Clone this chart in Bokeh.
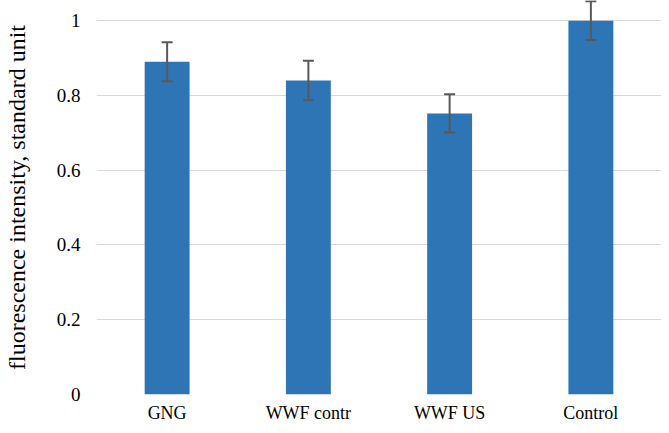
from bokeh.plotting import figure
from bokeh.models import ColumnDataSource, Whisker, TeeHead, FixedTicker, Range1d
from bokeh.embed import file_html
from bokeh.resources import INLINE

categories = ["GNG", "WWF contr", "WWF US", "Control"]
values = [0.89, 0.84, 0.752, 1.0]
errors = [0.052, 0.053, 0.051, 0.052]
y_ticks = [0, 0.2, 0.4, 0.6, 0.8, 1.0]
y_tick_labels = ["0", "0.2", "0.4", "0.6", "0.8", "1"]

BAR = "#2E75B6"
ERR = "#595959"
GRID = "#D9D9D9"
FONT = "Liberation Serif"

source = ColumnDataSource(dict(
    cat=categories,
    val=values,
    upper=[v + e for v, e in zip(values, errors)],
    lower=[v - e for v, e in zip(values, errors)],
))

p = figure(x_range=categories, y_range=Range1d(0, 1.054),
           width=661, height=425, output_backend="svg", toolbar_location=None,
           min_border_left=94, min_border_right=0, min_border_top=0, min_border_bottom=28)
p.x_range.range_padding = 0

p.vbar(x="cat", top="val", width=0.318, source=source, color=BAR, line_color=None)

w = Whisker(source=source, base="cat", upper="upper", lower="lower",
            dimension="height", line_color=ERR, line_width=2, level="overlay",
            upper_head=TeeHead(size=11, line_color=ERR, line_width=2),
            lower_head=TeeHead(size=11, line_color=ERR, line_width=2))
p.add_layout(w)

p.outline_line_color = None
p.background_fill_color = "white"
p.border_fill_color = "white"

p.xgrid.grid_line_color = None
p.ygrid.grid_line_color = GRID
p.ygrid.grid_line_width = 1.2
p.ygrid.ticker = FixedTicker(ticks=y_ticks)

p.yaxis.ticker = FixedTicker(ticks=y_ticks)
p.yaxis.major_label_overrides = dict(zip(y_ticks, y_tick_labels))
p.yaxis.axis_line_color = None
p.yaxis.major_tick_line_color = None
p.yaxis.minor_tick_line_color = None
p.yaxis.major_label_text_font = FONT
p.yaxis.major_label_text_font_size = "19px"
p.yaxis.major_label_text_color = "black"
p.yaxis.major_label_standoff = 10
p.yaxis.axis_label = "fluorescence intensity, standard unit"
p.yaxis.axis_label_text_font = FONT
p.yaxis.axis_label_text_font_size = "24px"
p.yaxis.axis_label_text_font_style = "normal"
p.yaxis.axis_label_text_color = "black"
p.yaxis.axis_label_standoff = 24

p.xaxis.axis_line_color = None
p.xaxis.major_tick_line_color = None
p.xaxis.minor_tick_line_color = None
p.xaxis.major_label_text_font = FONT
p.xaxis.major_label_text_font_size = "18px"
p.xaxis.major_label_text_color = "black"
p.xaxis.major_label_standoff = 2

open("out.html", "w").write(file_html(p, INLINE))
